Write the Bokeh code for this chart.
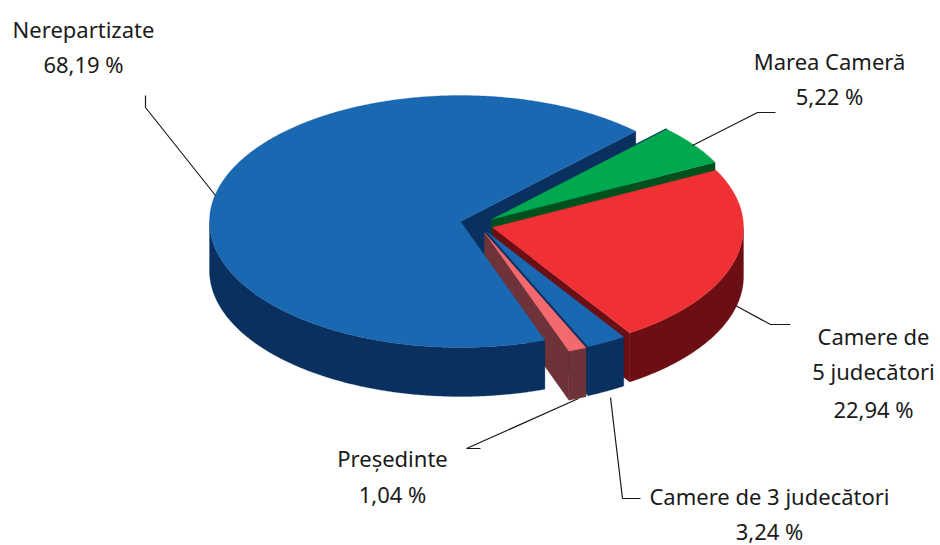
import numpy as np
from bokeh.plotting import figure
from bokeh.models import ColumnDataSource
from bokeh.core.properties import value
from bokeh.embed import file_html
from bokeh.resources import INLINE

# --- data (counter-clockwise from the start angle)
slices = ["Nerepartizate", "Președinte", "Camere de 3 judecători", "Camere de 5 judecători", "Marea Cameră"]
shares = [68.19, 1.04, 3.24, 22.94, 5.22]

# --- label texts
label_lines = ["Nerepartizate", "68,19 %", "Marea Cameră", "5,22 %", "Camere de", "5 judecători", "22,94 %",
               "Președinte", "1,04 %", "Camere de 3 judecători", "3,24 %"]

# --- layout / style
START = 45.7
RX, RY, DEPTH = 251, 126, 49
tips = {"Nerepartizate": (460, 221), "Președinte": (484, 232), "Camere de 3 judecători": (486, 231),
        "Camere de 5 judecători": (492, 227), "Marea Cameră": (491, 219)}
# small drawing nudge of each slice's end angle, in degrees (the source drawing is not exactly proportional)
end_nudge = {"Nerepartizate": 0.0, "Președinte": 0.5, "Camere de 3 judecători": -1.8,
             "Camere de 5 judecători": 0.0, "Marea Cameră": 0.0}
top_col = {"Nerepartizate": "#1a67b2", "Președinte": "#f4696d", "Camere de 3 judecători": "#1a67b2",
           "Camere de 5 judecători": "#ef3034", "Marea Cameră": "#00a84f"}
side_col = {"Nerepartizate": "#0a305f", "Președinte": "#6e3338", "Camere de 3 judecători": "#0a305f",
            "Camere de 5 judecători": "#6b0f14", "Marea Cameră": "#00501e"}
label_x = [83, 83, 829, 829, 873, 873, 873, 392, 392, 769, 769]
label_y = [28, 63, 60, 95, 335, 370, 408, 457, 493, 495, 530]
leaders = [([145, 145, 215], [95, 107, 195]),
           ([775, 757, 692], [112, 112, 145]),
           ([790, 770, 735], [324, 324, 305]),
           ([480, 466, 578], [448, 448, 398]),
           ([640, 622, 610], [498, 498, 397])]

total = sum(shares)
angles = {}
a = START
cum = START
for name, s in zip(slices, shares):
    cum += s / total * 360
    angles[name] = (a, cum + end_nudge[name])
    a = cum + end_nudge[name]


def rim(name, a0, a1):
    t = np.radians(np.linspace(a0, a1, max(int(abs(a1 - a0) * 2), 2)))
    cx, cy = tips[name]
    return cx + RX * np.cos(t), cy - RY * np.sin(t)


p = figure(width=940, height=545, x_range=(0, 940), y_range=(545, 0), toolbar_location=None,
           output_backend="svg", min_border=0, outline_line_color=None, background_fill_color="white")
p.axis.visible = False
p.grid.visible = False


def top(name):
    x, y = rim(name, *angles[name])
    cx, cy = tips[name]
    p.patch(np.r_[cx, x], np.r_[cy, y], fill_color=top_col[name], line_color=top_col[name], line_width=0.3)


def start_face(name):
    a0 = angles[name][0]
    x, y = rim(name, a0, a0 + 0.001)
    cx, cy = tips[name]
    p.patch([cx, x[0], x[0], cx], [cy, y[0], y[0] + DEPTH, cy + DEPTH],
            fill_color=side_col[name], line_color=side_col[name], line_width=0.3)


def wall(name):
    a0, a1 = angles[name]
    lo, hi = max(a0, 180), min(a1, 360)
    if hi <= lo:
        return
    x, y = rim(name, lo, hi)
    p.patch(np.r_[x, x[::-1]], np.r_[y, y[::-1] + DEPTH],
            fill_color=side_col[name], line_color=side_col[name], line_width=0.3)


N, P, C3, C5, M = slices

start_face(N)
# thin dark edge behind the green slice
gx, gy = rim(M, angles[M][1], angles[M][1] + 0.001)
p.line([tips[M][0], gx[0]], [tips[M][1], gy[0]], line_color="#0a305f", line_width=2.5)
start_face(M)
top(M)
start_face(C5)
wall(C5)
top(C5)
start_face(C3)
wall(C3)
top(C3)
start_face(P)
wall(P)
top(P)
wall(N)
top(N)

for lx, ly in leaders:
    p.line(lx, ly, line_color="#1a1a1a", line_width=1.2)

src = ColumnDataSource(dict(x=label_x, y=label_y, t=label_lines))
p.text("x", "y", text="t", source=src, text_font=value("Noto Sans"), text_font_size="22px",
       text_align="center", text_baseline="middle", text_color="#1a1a1a")

open("out.html", "w").write(file_html(p, INLINE))
